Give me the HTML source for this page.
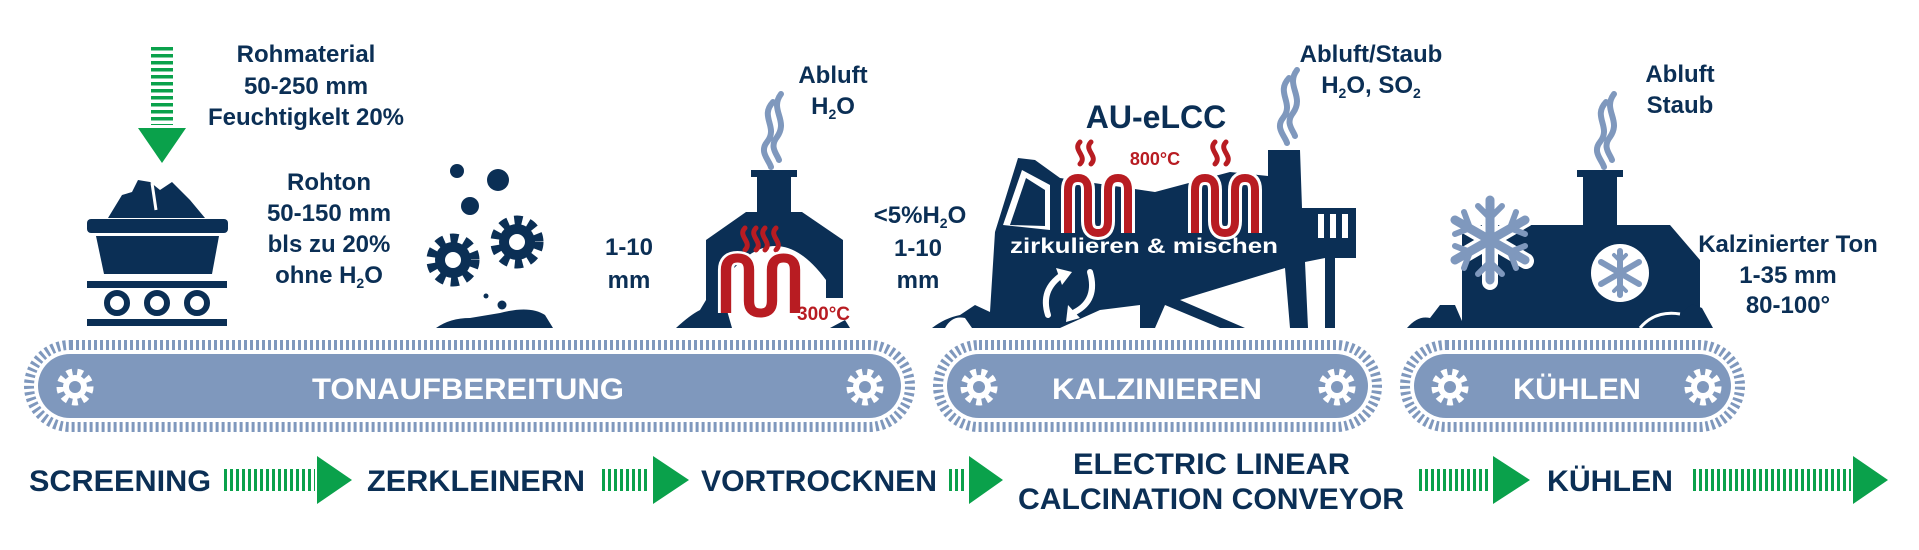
<!DOCTYPE html>
<html><head><meta charset="utf-8"><style>
html,body{margin:0;padding:0;background:#fff;width:1919px;height:550px;overflow:hidden}
svg{display:block}
text{font-family:"Liberation Sans",sans-serif;font-weight:bold}
</style></head><body>
<svg width="1919" height="550" viewBox="0 0 1919 550" xmlns="http://www.w3.org/2000/svg">
<defs>
<g id="gear"><circle r="15" fill="none" stroke="#fff" stroke-width="7" stroke-dasharray="5.5 4.9"/><circle r="12" fill="#fff"/><circle r="6" fill="#7f98bd"/></g>
<g id="ngear"><circle r="22" fill="none" stroke="#0b2f55" stroke-width="9" stroke-dasharray="8 6.4"/><circle r="18" fill="#0b2f55"/><circle r="8" fill="#fff"/></g>
<path id="smoke" d="M0 0 C-14 15 6 25 -6 40 C-14 50 -4 58 -2 65 M8 -8 C-4 8 16 18 4 35 C-4 45 4 52 6 58" fill="none" stroke="#7f98bd" stroke-width="6" stroke-linecap="round"/>
<path id="coil" d="M0 55 L0 12 Q0 0 10 0 Q20 0 20 12 L20 43 Q20 55 30 55 Q40 55 40 43 L40 12 Q40 0 50 0 Q60 0 60 12 L60 55" fill="none"/>
<path id="heat" d="M0 0 C-8 8 8 14 0 22 M11 0 C3 8 19 14 11 22" fill="none" stroke="#b81c22" stroke-width="5" stroke-linecap="round"/>
</defs>

<!-- Conveyors -->
<g>
<rect x="29" y="345" width="881" height="82" rx="41" fill="none" stroke="#7f98bd" stroke-width="10" stroke-dasharray="3 3"/>
<rect x="38" y="354" width="863" height="64" rx="32" fill="#7f98bd"/>
<rect x="938" y="345" width="439" height="82" rx="41" fill="none" stroke="#7f98bd" stroke-width="10" stroke-dasharray="3 3"/>
<rect x="947" y="354" width="421" height="64" rx="32" fill="#7f98bd"/>
<rect x="1405" y="345" width="335" height="82" rx="41" fill="none" stroke="#7f98bd" stroke-width="10" stroke-dasharray="3 3"/>
<rect x="1414" y="354" width="317" height="64" rx="32" fill="#7f98bd"/>
<use href="#gear" x="75" y="387"/><use href="#gear" x="865" y="387"/>
<use href="#gear" x="979" y="387"/><use href="#gear" x="1337" y="387"/>
<use href="#gear" x="1450" y="387"/><use href="#gear" x="1703" y="387"/>
<text x="468" y="399" font-size="30" fill="#fff" text-anchor="middle" textLength="312" lengthAdjust="spacingAndGlyphs">TONAUFBEREITUNG</text>
<text x="1157" y="399" font-size="30" fill="#fff" text-anchor="middle" textLength="210" lengthAdjust="spacingAndGlyphs">KALZINIEREN</text>
<text x="1577" y="399" font-size="30" fill="#fff" text-anchor="middle" textLength="128" lengthAdjust="spacingAndGlyphs">KÜHLEN</text>
</g>

<!-- Bottom labels -->
<g fill="#0b2f55" font-size="30">
<text x="29" y="491" textLength="182" lengthAdjust="spacingAndGlyphs">SCREENING</text>
<text x="367" y="491" textLength="218" lengthAdjust="spacingAndGlyphs">ZERKLEINERN</text>
<text x="701" y="491" textLength="236" lengthAdjust="spacingAndGlyphs">VORTROCKNEN</text>
<text x="1073" y="474" textLength="277" lengthAdjust="spacingAndGlyphs">ELECTRIC LINEAR</text>
<text x="1018" y="509" textLength="386" lengthAdjust="spacingAndGlyphs">CALCINATION CONVEYOR</text>
<text x="1547" y="491" textLength="126" lengthAdjust="spacingAndGlyphs">KÜHLEN</text>
</g>
<g fill="#0aa14b" stroke="#0aa14b">
<line x1="224" y1="480" x2="315" y2="480" stroke-width="22" stroke-dasharray="3 3" fill="none"/>
<polygon points="317,456 352,480 317,504" stroke="none"/>
<line x1="602" y1="480" x2="650" y2="480" stroke-width="22" stroke-dasharray="3 3"/>
<polygon points="653,456 689,480 653,504" stroke="none"/>
<line x1="949" y1="480" x2="967" y2="480" stroke-width="22" stroke-dasharray="3 3"/>
<polygon points="969,456 1003,480 969,504" stroke="none"/>
<line x1="1419" y1="480" x2="1490" y2="480" stroke-width="22" stroke-dasharray="3 3"/>
<polygon points="1493,456 1530,480 1493,504" stroke="none"/>
<line x1="1693" y1="480" x2="1851" y2="480" stroke-width="22" stroke-dasharray="3 3"/>
<polygon points="1853,456 1888,480 1853,504" stroke="none"/>
<line x1="162" y1="47" x2="162" y2="125" stroke-width="22" stroke-dasharray="3.5 3.5"/>
<polygon points="138,128 186,128 162,163" stroke="none"/>
</g>

<!-- Top texts -->
<g fill="#0b2f55" font-size="24" text-anchor="middle">
<text x="306" y="62">Rohmaterial</text>
<text x="306" y="94">50-250 mm</text>
<text x="306" y="125">Feuchtigkelt 20%</text>
<text x="329" y="190">Rohton</text>
<text x="329" y="221">50-150 mm</text>
<text x="329" y="252">bls zu 20%</text>
<text x="329" y="283">ohne H<tspan font-size="14" dy="5">2</tspan><tspan dy="-5">O</tspan></text>
<text x="629" y="255">1-10</text>
<text x="629" y="288">mm</text>
<text x="833" y="83">Abluft</text>
<text x="833" y="114">H<tspan font-size="14" dy="5">2</tspan><tspan dy="-5">O</tspan></text>
<text x="920" y="223">&lt;5%H<tspan font-size="14" dy="5">2</tspan><tspan dy="-5">O</tspan></text>
<text x="918" y="256">1-10</text>
<text x="918" y="288">mm</text>
<text x="1371" y="62">Abluft/Staub</text>
<text x="1371" y="93">H<tspan font-size="14" dy="5">2</tspan><tspan dy="-5">O, SO</tspan><tspan font-size="14" dy="5">2</tspan></text>
<text x="1156" y="128" font-size="32">AU-eLCC</text>
<text x="1680" y="82">Abluft</text>
<text x="1680" y="113">Staub</text>
<text x="1788" y="252">Kalzinierter Ton</text>
<text x="1788" y="283">1-35 mm</text>
<text x="1788" y="313">80-100°</text>
</g>

<!-- Cart -->
<g fill="#0b2f55">
<path d="M108 218 L122 195 L132 192 L138 180 L150 182 L160 190 L172 182 L190 200 L205 218 Z"/>
<path d="M152 183 L156 210" stroke="#fff" stroke-width="3"/>
<rect x="87" y="219" width="141" height="14" rx="4"/>
<path d="M96 236 L219 236 L212 274 L104 274 Z"/>
<rect x="87" y="281" width="140" height="7"/>
<rect x="87" y="319" width="140" height="7"/>
<circle cx="117" cy="303" r="10" fill="#fff" stroke="#0b2f55" stroke-width="6"/>
<circle cx="157" cy="303" r="10" fill="#fff" stroke="#0b2f55" stroke-width="6"/>
<circle cx="197" cy="303" r="10" fill="#fff" stroke="#0b2f55" stroke-width="6"/>
</g>

<!-- Grinding gears -->
<g fill="#0b2f55">
<circle cx="457" cy="171" r="7"/><circle cx="498" cy="180" r="11"/><circle cx="470" cy="206" r="9"/>
<use href="#ngear" x="453" y="260"/><use href="#ngear" x="517" y="242"/>
<circle cx="486" cy="296" r="2.5"/><circle cx="502" cy="305" r="4.5"/>
<path d="M436 328 Q450 318 470 318 L500 313 Q530 305 545 315 L553 328 Z"/>
</g>

<!-- Kiln 1 -->
<g fill="#0b2f55">
<rect x="751" y="170" width="46" height="7"/>
<rect x="757" y="177" width="34" height="45"/>
<path d="M706 328 L706 240 L746 212 L802 212 L843 240 L843 298 L826 298 L826 280 Q776 212 724 280 L724 328 Z"/>
<path d="M676 328 Q690 315 700 310 L706 300 L724 300 L732 328 Z"/>
<path d="M830 328 L845 320 L850 328 Z"/>
</g>
<use href="#smoke" x="773" y="102"/>
<use href="#heat" x="745" y="228"/><use href="#heat" x="765" y="228"/>
<g transform="translate(726,258) scale(1.15,1)">
<use href="#coil" stroke="#fff" stroke-width="14"/>
<use href="#coil" stroke="#b81c22" stroke-width="9"/>
</g>
<text x="797" y="320" font-size="19" fill="#b81c22">300°C</text>

<!-- Calciner -->
<g fill="#0b2f55">
<path d="M932 328 Q945 318 960 315 L975 305 L990 312 L995 232 L1018 158 L1035 160 L1060 178 L1155 192 L1230 172 L1268 176 L1268 150 L1300 150 L1302 208 L1356 208 L1356 258 L1335 258 L1335 328 L1325 328 L1325 258 L1305 262 L1308 328 L1290 328 L1285 268 L1180 300 L1245 328 L1220 328 L1165 305 L1155 328 L1140 328 L1140 305 L1100 310 L1060 328 Z"/>
<path d="M1003 225 L1022 170 L1050 185 L1050 230 Z" fill="#fff"/>
<path d="M1010 225 L1026 178 L1045 190 L1045 226 Z" fill="#0b2f55"/>
<rect x="1318" y="214" width="6" height="24" fill="#fff"/><rect x="1330" y="214" width="6" height="24" fill="#fff"/><rect x="1342" y="214" width="6" height="24" fill="#fff"/>
</g>
<use href="#smoke" x="1289" y="78"/>
<use href="#heat" x="1080" y="142"/><use href="#heat" x="1215" y="142"/>
<text x="1155" y="165" font-size="18" fill="#b81c22" text-anchor="middle">800°C</text>
<use href="#coil" x="1068" y="178" stroke="#fff" stroke-width="14"/>
<use href="#coil" x="1068" y="178" stroke="#b81c22" stroke-width="8"/>
<use href="#coil" x="1195" y="178" stroke="#fff" stroke-width="14"/>
<use href="#coil" x="1195" y="178" stroke="#b81c22" stroke-width="8"/>
<text x="1144" y="253" font-size="21" fill="#fff" text-anchor="middle" textLength="268" lengthAdjust="spacingAndGlyphs">zirkulieren &amp; mischen</text>
<g fill="none" stroke="#fff" stroke-width="6" stroke-linecap="round">
<path d="M1048 315 Q1040 290 1062 275"/><path d="M1090 272 Q1098 300 1075 312"/>
</g>
<polygon points="1056,268 1072,272 1062,285" fill="#fff"/>
<polygon points="1068,305 1080,318 1066,322" fill="#fff"/>
<path d="M945 328 Q952 315 965 318 L972 328 Z" fill="#fff"/>

<!-- Cooler -->
<g fill="#0b2f55">
<rect x="1577" y="170" width="46" height="7"/>
<rect x="1583" y="177" width="34" height="50"/>
<path d="M1462 328 L1462 235 Q1462 225 1472 225 L1640 225 L1670 225 L1700 260 L1700 328 Z"/>
<path d="M1407 328 Q1418 315 1430 318 L1440 305 L1455 305 L1465 328 Z"/>
<path d="M1650 328 Q1665 312 1680 314 L1692 304 L1702 308 L1713 328 Z"/>
</g>
<path d="M1640 328 Q1655 310 1680 314" fill="none" stroke="#fff" stroke-width="3"/>
<use href="#smoke" x="1606" y="102"/>
<circle cx="1620" cy="273" r="29" fill="#fff"/>
<g stroke="#7f98bd" stroke-width="6" stroke-linecap="round" fill="none">
<g transform="translate(1620,273)">
<path d="M0 -22 L0 22 M-19 -11 L19 11 M-19 11 L19 -11"/>
<path d="M-6 -18 L0 -12 L6 -18 M-6 18 L0 12 L6 18" stroke-width="4"/>
</g>
</g>
<g transform="translate(1490,240)">
<g stroke="#fff" stroke-width="16" stroke-linecap="round" fill="none"><path d="M0 -42 L0 42 M-36 -21 L36 21 M-36 21 L36 -21"/></g>
<g stroke="#7f98bd" stroke-width="9" stroke-linecap="round" fill="none">
<path d="M0 -40 L0 40 M-35 -20 L35 20 M-35 20 L35 -20"/>
<path d="M-12 -34 L0 -22 L12 -34 M-12 34 L0 22 L12 34 M-35 -6 L-20 -12 L-26 -28 M35 6 L20 12 L26 28 M35 -6 L20 -12 L26 -28 M-35 6 L-20 12 L-26 28" stroke-width="6"/>
</g>
</g>
</svg>
</body></html>
